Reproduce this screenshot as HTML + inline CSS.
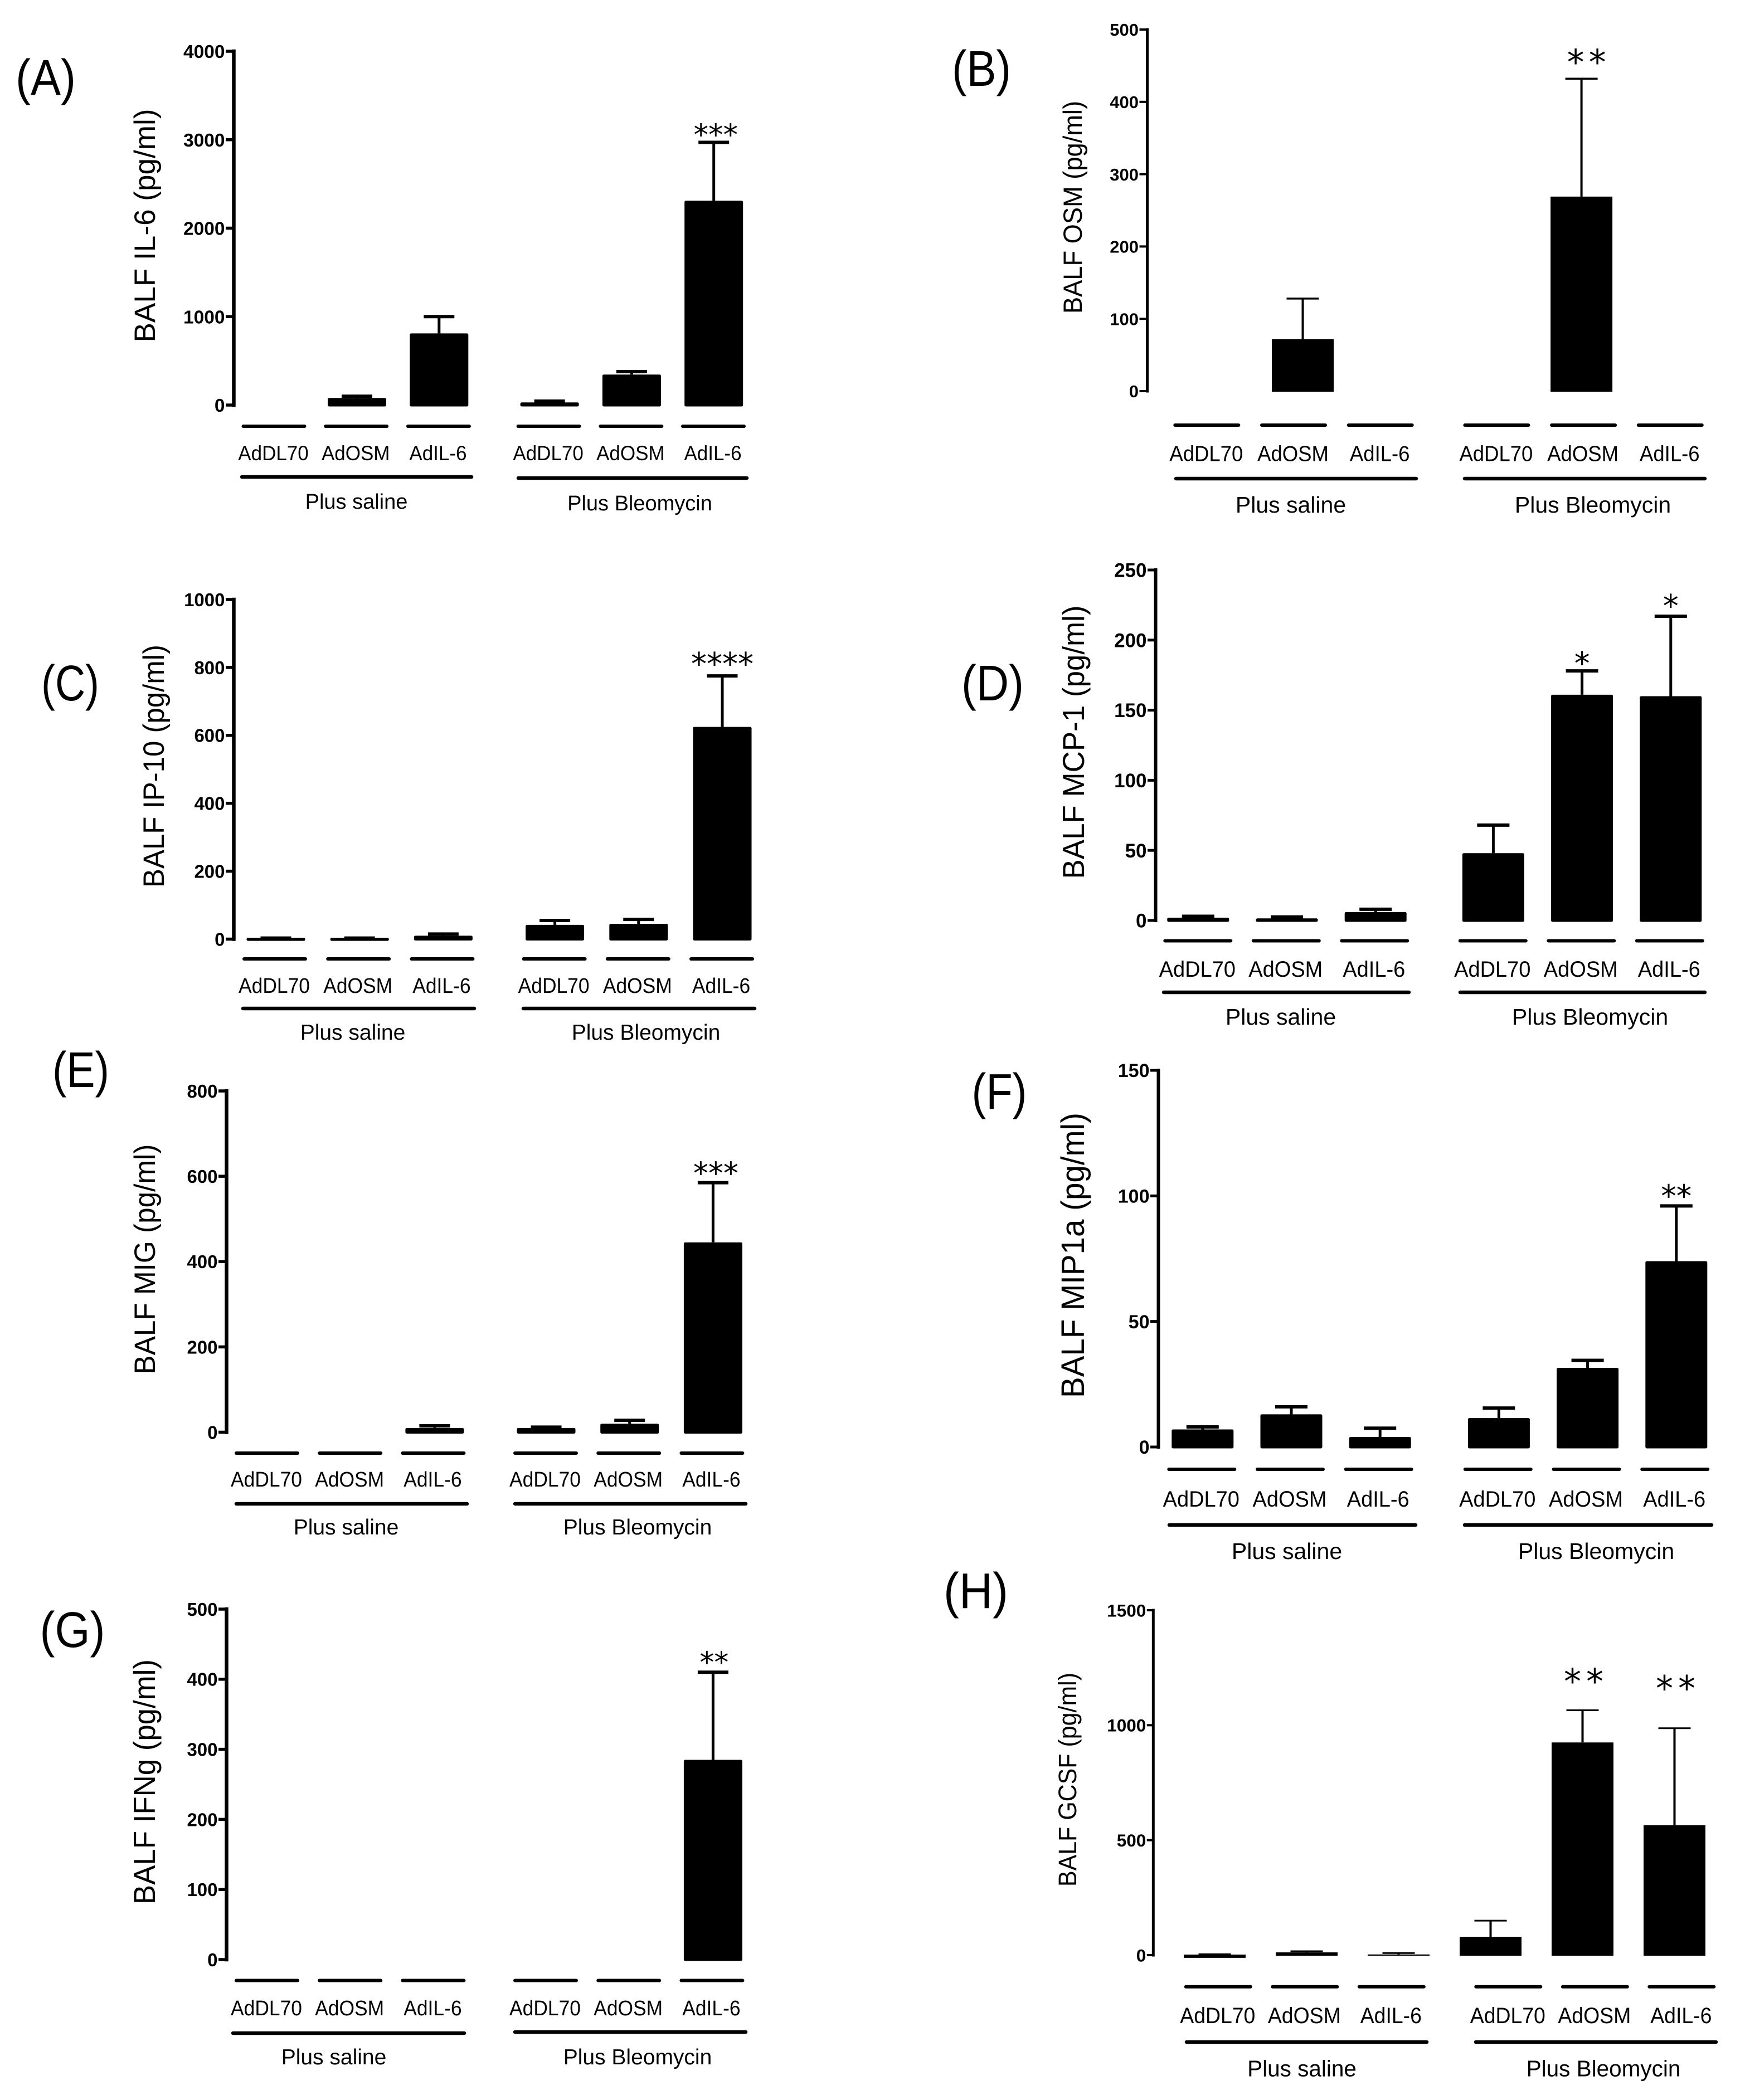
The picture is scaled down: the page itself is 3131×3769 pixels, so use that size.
<!DOCTYPE html>
<html lang="en">
<head>
<meta charset="utf-8">
<title>BALF cytokine levels</title>
<style>
html,body{margin:0;padding:0;background:#fff}
svg{display:block}
text{font-family:"Liberation Sans",sans-serif;fill:#000}
.grp{stroke:#000;stroke-width:6.5;stroke-linecap:round}
.letter{text-anchor:middle;font-size:90px}
.glabel{text-anchor:middle}
.ytitle{text-anchor:middle}
</style>
</head>
<body>
<svg id="figure" xmlns="http://www.w3.org/2000/svg" width="3131" height="3769" viewBox="0 0 3131 3769">
<rect width="3131" height="3769" fill="#fff"/>

<g id="panel-a">
<text class="letter" x="82" y="170" textLength="108" lengthAdjust="spacingAndGlyphs">(A)</text>
<text class="ytitle" transform="translate(278 405) rotate(-90)" font-size="53" textLength="419" lengthAdjust="spacingAndGlyphs">BALF IL-6 (pg/ml)</text>
<line class="grp" x1="434" x2="846" y1="856" y2="856"/>
<line class="grp" x1="930" x2="1340" y1="858" y2="858"/>
<text class="glabel" x="639.5" y="913" font-size="38">Plus saline</text>
<text class="glabel" x="1148" y="916" font-size="38">Plus Bleomycin</text>
</g>

<g id="panel-b">
<text class="letter" x="1761" y="154" textLength="106" lengthAdjust="spacingAndGlyphs">(B)</text>
<text class="ytitle" transform="translate(1941 372) rotate(-90)" font-size="47" textLength="382" lengthAdjust="spacingAndGlyphs">BALF OSM (pg/ml)</text>
<line class="grp" x1="2110" x2="2541" y1="859" y2="859"/>
<line class="grp" x1="2628" x2="3059" y1="859" y2="859"/>
<text class="glabel" x="2316" y="920" font-size="41">Plus saline</text>
<text class="glabel" x="2858" y="920" font-size="41">Plus Bleomycin</text>
</g>

<g id="panel-c">
<text class="letter" x="126" y="1257" textLength="104" lengthAdjust="spacingAndGlyphs">(C)</text>
<text class="ytitle" transform="translate(294 1375) rotate(-90)" font-size="53" textLength="436" lengthAdjust="spacingAndGlyphs">BALF IP-10 (pg/ml)</text>
<line class="grp" x1="436" x2="851" y1="1810" y2="1810"/>
<line class="grp" x1="939" x2="1354" y1="1810" y2="1810"/>
<text class="glabel" x="633" y="1866" font-size="39">Plus saline</text>
<text class="glabel" x="1159" y="1866" font-size="39">Plus Bleomycin</text>
</g>

<g id="panel-d">
<text class="letter" x="1781" y="1257" textLength="112" lengthAdjust="spacingAndGlyphs">(D)</text>
<text class="ytitle" transform="translate(1945 1332) rotate(-90)" font-size="55" textLength="491" lengthAdjust="spacingAndGlyphs">BALF MCP-1 (pg/ml)</text>
<line class="grp" x1="2088" x2="2528" y1="1781" y2="1781"/>
<line class="grp" x1="2620" x2="3059" y1="1781" y2="1781"/>
<text class="glabel" x="2298" y="1839" font-size="41">Plus saline</text>
<text class="glabel" x="2853" y="1839" font-size="41">Plus Bleomycin</text>
</g>

<g id="panel-e">
<text class="letter" x="145" y="1951" textLength="102" lengthAdjust="spacingAndGlyphs">(E)</text>
<text class="ytitle" transform="translate(278 2260) rotate(-90)" font-size="53" textLength="413" lengthAdjust="spacingAndGlyphs">BALF MIG (pg/ml)</text>
<line class="grp" x1="424" x2="838" y1="2699" y2="2699"/>
<line class="grp" x1="924" x2="1338" y1="2699" y2="2699"/>
<text class="glabel" x="621" y="2754" font-size="39">Plus saline</text>
<text class="glabel" x="1144" y="2754" font-size="39">Plus Bleomycin</text>
</g>

<g id="panel-f">
<text class="letter" x="1793" y="1990" textLength="99" lengthAdjust="spacingAndGlyphs">(F)</text>
<text class="ytitle" transform="translate(1945 2253) rotate(-90)" font-size="58" textLength="512" lengthAdjust="spacingAndGlyphs">BALF MIP1a (pg/ml)</text>
<line class="grp" x1="2098" x2="2540" y1="2737" y2="2737"/>
<line class="grp" x1="2628" x2="3071" y1="2737" y2="2737"/>
<text class="glabel" x="2309" y="2798" font-size="41">Plus saline</text>
<text class="glabel" x="2864" y="2798" font-size="41">Plus Bleomycin</text>
</g>

<g id="panel-g">
<text class="letter" x="130" y="2956" textLength="117" lengthAdjust="spacingAndGlyphs">(G)</text>
<text class="ytitle" transform="translate(278 3198) rotate(-90)" font-size="55" textLength="440" lengthAdjust="spacingAndGlyphs">BALF IFNg (pg/ml)</text>
<line class="grp" x1="418" x2="833" y1="3649" y2="3649"/>
<line class="grp" x1="924" x2="1338" y1="3647" y2="3647"/>
<text class="glabel" x="599" y="3705" font-size="39">Plus saline</text>
<text class="glabel" x="1144" y="3705" font-size="39">Plus Bleomycin</text>
</g>

<g id="panel-h">
<text class="letter" x="1751" y="2886" textLength="116" lengthAdjust="spacingAndGlyphs">(H)</text>
<text class="ytitle" transform="translate(1931 3194) rotate(-90)" font-size="45" textLength="384" lengthAdjust="spacingAndGlyphs">BALF GCSF (pg/ml)</text>
<line class="grp" x1="2129" x2="2560" y1="3665" y2="3665"/>
<line class="grp" x1="2648" x2="3079" y1="3665" y2="3665"/>
<text class="glabel" x="2336" y="3726.7" font-size="40.5">Plus saline</text>
<text class="glabel" x="2877" y="3726.7" font-size="40.5">Plus Bleomycin</text>
</g>
</svg>

<script>
// Shared categories
const categories = ['AdDL70', 'AdOSM', 'AdIL-6', 'AdDL70', 'AdOSM', 'AdIL-6'];

// Panel A: IL-6
const il6Ticks = [0, 1000, 2000, 3000, 4000];
const il6Means = [0, 80, 810, 30, 345, 2310];
const il6ErrTops = [0, 100, 1000, 45, 378, 2970];
const il6Stars = ['', '', '', '', '', '***'];

// Panel B: OSM
const osmTicks = [0, 100, 200, 300, 400, 500];
const osmMeans = [0, 72, 0, 0, 269, 0];
const osmErrTops = [0, 128, 0, 0, 432, 0];
const osmStars = ['', '', '', '', '**', ''];

// Panel C: IP-10
const ip10Ticks = [0, 200, 400, 600, 800, 1000];
const ip10Means = [3, 3, 10, 42, 45, 625];
const ip10ErrTops = [3, 3, 15, 55, 58, 775];
const ip10Stars = ['', '', '', '', '', '****'];

// Panel D: MCP-1
const mcp1Ticks = [0, 50, 100, 150, 200, 250];
const mcp1Means = [2, 1.5, 6, 48, 161, 160];
const mcp1ErrTops = [3, 2.5, 8, 68, 178, 217];
const mcp1Stars = ['', '', '', '', '*', '*'];

// Panel E: MIG
const migTicks = [0, 200, 400, 600, 800];
const migMeans = [0, 0, 10, 10, 20, 445];
const migErrTops = [0, 0, 15, 12, 28, 585];
const migStars = ['', '', '', '', '', '***'];

// Panel F: MIP1a
const mip1aTicks = [0, 50, 100, 150];
const mip1aMeans = [7, 13, 4, 11.5, 31.5, 74];
const mip1aErrTops = [8, 16, 7.5, 15.5, 34.5, 96];
const mip1aStars = ['', '', '', '', '', '**'];

// Panel G: IFNg
const ifngTicks = [0, 100, 200, 300, 400, 500];
const ifngMeans = [0, 0, 0, 0, 0, 285];
const ifngErrTops = [0, 0, 0, 0, 0, 410];
const ifngStars = ['', '', '', '', '', '**'];

// Panel H: GCSF
const gcsfTicks = [0, 500, 1000, 1500];
const gcsfMeans = [-7, 12, 3, 80, 925, 565];
const gcsfErrTops = [4, 17, 9, 150, 1065, 987];
const gcsfStars = ['', '', '', '', '**', '**'];

const SVGNS = 'http://www.w3.org/2000/svg';

function make(tag, attrs, parent) {
  const node = document.createElementNS(SVGNS, tag);
  for (const k in attrs) node.setAttribute(k, attrs[k]);
  parent.appendChild(node);
  return node;
}

function drawPanel(p) {
  const root = document.getElementById(p.id);
  const maxV = p.ticks[p.ticks.length - 1];
  const yScale = v => p.yZero - (v / maxV) * (p.yZero - p.yTop);
  const barX = i => p.barX0 + i * p.barStep + (i >= 3 ? p.barGap : 0);
  const segX = i => p.segX0 + i * p.segStep + (i >= 3 ? p.segGap : 0);

  const axis = make('line', {x1: p.axisX, x2: p.axisX, y1: p.yTop - p.axisW / 2, y2: p.yZero + p.axisW / 2, stroke: '#000', 'stroke-width': p.axisW}, root);
  
  

  p.ticks.forEach(t => {
    const ty = yScale(t);
    const tick = make('line', {x1: p.axisX - p.tickLen, x2: p.axisX, y1: ty, y2: ty, stroke: '#000', 'stroke-width': p.axisW - 1}, root);
    
    
    const label = make('text', {x: p.axisX - p.tickLen - 1.5, y: ty + p.tickSize * 0.36, 'text-anchor': 'end', 'font-size': p.tickSize, 'font-weight': 'bold'}, root);
    label.textContent = String(t);
    
    
  });

  categories.forEach((c, i) => {
    const cx = barX(i);
    const mean = p.means[i];
    const errTop = p.errTops[i];
    if (errTop !== 0) {
      const stem = make('line', {x1: cx, x2: cx, y1: yScale(mean), y2: yScale(errTop), stroke: '#000', 'stroke-width': p.stemW}, root);
      
      
      const cap = make('line', {x1: cx - p.capW / 2, x2: cx + p.capW / 2, y1: yScale(errTop), y2: yScale(errTop), stroke: '#000', 'stroke-width': p.capT}, root);
      
      
    }
    if (mean !== 0) {
      const top = yScale(mean) + p.barStroke / 2;
      const bottom = p.yZero;
      const bar = make('rect', {
        x: cx - p.barW / 2 + p.barStroke / 2,
        y: Math.min(top, bottom),
        width: p.barW - p.barStroke,
        height: Math.abs(bottom - top),
        fill: '#000',
        stroke: '#000',
        'stroke-width': p.barStroke,
        'stroke-linejoin': p.barJoin
      }, root);
      
      
    }
    if (p.stars[i]) {
      const gap = p.starGaps[i];
      const sy = yScale(errTop) - gap + p.starSize * 0.518;
      const star = make('text', {x: cx + p.starDx + p.starSpacing / 2, y: sy, 'text-anchor': 'middle', 'font-size': p.starSize, 'letter-spacing': p.starSpacing, style: 'font-family:"DejaVu Sans",sans-serif'}, root);
      star.textContent = p.stars[i];
      
      
    }
    const sx = segX(i);
    const seg = make('line', {x1: sx - p.segW / 2 + 3, x2: sx + p.segW / 2 - 3, y1: p.segY, y2: p.segY, stroke: '#000', 'stroke-width': 6, 'stroke-linecap': 'round'}, root);
    
    
    const cat = make('text', {transform: 'translate(' + (sx - 1) + ' ' + (p.catY + p.catSize * 0.38) + ') scale(1 1.06)', 'text-anchor': 'middle', 'font-size': p.catSize}, root);
    cat.textContent = c;
    
    
  });
}

drawPanel({id: 'panel-a', ticks: il6Ticks, means: il6Means, errTops: il6ErrTops, stars: il6Stars,
  axisX: 419.5, yTop: 92, yZero: 727, axisW: 6.5, tickLen: 14.5, tickSize: 33.5,
  barX0: 493.2, barStep: 147.3, barGap: 51, barW: 105, barStroke: 5, barJoin: 'round', stemW: 5, capW: 55, capT: 6,
  segX0: 491.5, segStep: 147.7, segGap: 50, segW: 116, segY: 765, catY: 812.5, catSize: 35,
  starGaps: [0, 0, 0, 0, 0, 23], starSize: 53, starSpacing: 0, starDx: 3.5});

drawPanel({id: 'panel-b', ticks: osmTicks, means: osmMeans, errTops: osmErrTops, stars: osmStars,
  axisX: 2058.5, yTop: 53, yZero: 702, axisW: 5, tickLen: 14, tickSize: 31,
  barX0: 2181.8, barStep: 155.7, barGap: 33, barW: 111, barStroke: 2, barJoin: 'miter', stemW: 4, capW: 58, capT: 3.5,
  segX0: 2165.3, segStep: 155.7, segGap: 53, segW: 120, segY: 763, catY: 813.5, catSize: 36.5,
  starGaps: [0, 0, 0, 0, 40, 0], starSize: 62, starSpacing: 8, starDx: 9});

drawPanel({id: 'panel-c', ticks: ip10Ticks, means: ip10Means, errTops: ip10ErrTops, stars: ip10Stars,
  axisX: 419.5, yTop: 1076, yZero: 1685.5, axisW: 6.5, tickLen: 14.5, tickSize: 33,
  barX0: 495, barStep: 150.2, barGap: 50, barW: 105, barStroke: 5, barJoin: 'round', stemW: 5, capW: 55, capT: 6,
  segX0: 493, segStep: 150.2, segGap: 51, segW: 116, segY: 1721, catY: 1768.5, catSize: 35.4,
  starGaps: [0, 0, 0, 0, 0, 31], starSize: 56, starSpacing: 0, starDx: 0});

drawPanel({id: 'panel-d', ticks: mcp1Ticks, means: mcp1Means, errTops: mcp1ErrTops, stars: mcp1Stars,
  axisX: 2073.5, yTop: 1023, yZero: 1652, axisW: 6, tickLen: 14.5, tickSize: 35,
  barX0: 2149.8, barStep: 159.2, barGap: 52, barW: 111, barStroke: 5, barJoin: 'round', stemW: 5, capW: 58, capT: 6,
  segX0: 2149.3, segStep: 158.5, segGap: 54, segW: 124, segY: 1688.5, catY: 1738.5, catSize: 38,
  starGaps: [0, 0, 0, 0, 23, 28], starSize: 56, starSpacing: 0, starDx: 0});

drawPanel({id: 'panel-e', ticks: migTicks, means: migMeans, errTops: migErrTops, stars: migStars,
  axisX: 406.5, yTop: 1958, yZero: 2570.5, axisW: 6.5, tickLen: 14.5, tickSize: 33,
  barX0: 480.5, barStep: 149.7, barGap: 50.4, barW: 105, barStroke: 5, barJoin: 'round', stemW: 5, capW: 55, capT: 6,
  segX0: 479, segStep: 149.2, segGap: 52.4, segW: 116, segY: 2608, catY: 2654.5, catSize: 35.4,
  starGaps: [0, 0, 0, 0, 0, 26], starSize: 54, starSpacing: 0, starDx: 5});

drawPanel({id: 'panel-f', ticks: mip1aTicks, means: mip1aMeans, errTops: mip1aErrTops, stars: mip1aStars,
  axisX: 2078.5, yTop: 1921, yZero: 2597, axisW: 6, tickLen: 14.5, tickSize: 34,
  barX0: 2157.8, barStep: 159.2, barGap: 54, barW: 111, barStroke: 5, barJoin: 'round', stemW: 5, capW: 58, capT: 6,
  segX0: 2156.3, segStep: 158.7, segGap: 55.4, segW: 124, segY: 2637, catY: 2689.5, catSize: 38,
  starGaps: [0, 0, 0, 0, 0, 27], starSize: 55, starSpacing: 0, starDx: 0});

drawPanel({id: 'panel-g', ticks: ifngTicks, means: ifngMeans, errTops: ifngErrTops, stars: ifngStars,
  axisX: 406.5, yTop: 2888, yZero: 3517, axisW: 6.5, tickLen: 14.5, tickSize: 33,
  barX0: 480.5, barStep: 149.7, barGap: 50.4, barW: 105, barStroke: 5, barJoin: 'round', stemW: 5, capW: 55, capT: 6,
  segX0: 479, segStep: 149.2, segGap: 52.4, segW: 116, segY: 3554.5, catY: 3603.5, catSize: 35.4,
  starGaps: [0, 0, 0, 0, 0, 26.5], starSize: 52, starSpacing: 0, starDx: 2});

drawPanel({id: 'panel-h', ticks: gcsfTicks, means: gcsfMeans, errTops: gcsfErrTops, stars: gcsfStars,
  axisX: 2069.3, yTop: 2890, yZero: 3509, axisW: 5, tickLen: 11.5, tickSize: 31.5,
  barX0: 2179.5, barStep: 165, barGap: 0, barW: 111, barStroke: 2, barJoin: 'miter', stemW: 4, capW: 58, capT: 3,
  segX0: 2185.8, segStep: 155.5, segGap: 54, segW: 122, segY: 3565.7, catY: 3617, catSize: 37.4,
  starGaps: [0, 0, 0, 0, 62, 82], starSize: 62, starSpacing: 9, starDx: 2});
</script>
</body>
</html>
